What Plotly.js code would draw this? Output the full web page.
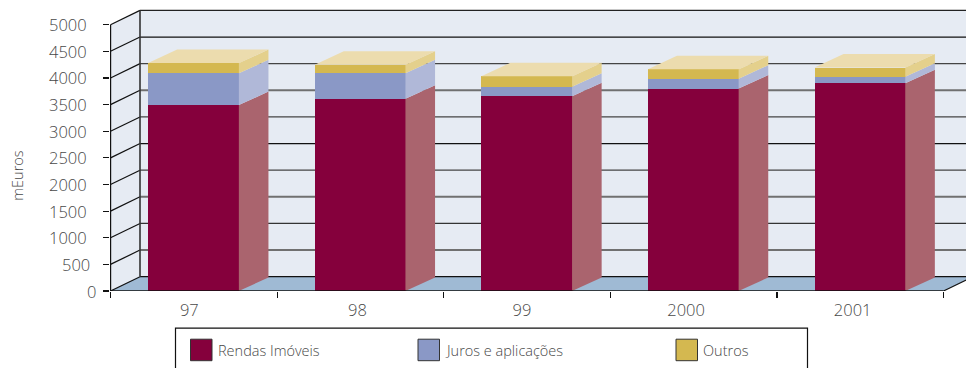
<!DOCTYPE html>
<html>
<head>
<meta charset="utf-8">
<script src="https://cdn.plot.ly/plotly-3.0.1.min.js"></script>
<style>html,body{margin:0;padding:0;background:#fff;overflow:hidden}</style>
</head>
<body>
<div id="chart" style="width:966px;height:368px"></div>
<script>
// Income by year, thousands of euros
const years = ['97', '98', '99', '2000', '2001'];
const seriesNames = ['Rendas Imóveis', 'Juros e aplicações', 'Outros'];
const rendas = [3490, 3610, 3655, 3800, 3900];
const juros = [597, 477, 180, 187, 125];
const outros = [193, 163, 195, 175, 170];
const yTicks = [0, 500, 1000, 1500, 2000, 2500, 3000, 3500, 4000, 4500, 5000];

const frontColors = ['#85003c', '#8a98c6', '#d4b850'];
const sideColors = ['#aa646e', '#b0b8d8', '#e4d08c'];
const topColor = '#ecdcae';
const wallColor = '#e6ebf3';
const floorColor = '#9fbad4';
const inkColor = '#484848';
const fontName = '"Open Sans", sans-serif';
const lightText = (size) => ({family: fontName, size, color: inkColor, weight: 300});

// Back-wall rule styling, one entry per value tick
const ruleColors = ['#111', '#707070', '#333', '#707070', '#444', '#111', '#444', '#707070', '#444', '#111', '#222'];
const ruleWidths = [1.3, 2, 1.3, 2, 1.3, 1.3, 1.3, 2, 1.3, 1.3, 1.3];
// Horizontal nudge of each year label, in pixels
const yearLabelNudge = [-4.5, -3, -5, -7.5, -7.5];

// Plot box in page pixels, and the oblique depth of the box in axis units
const W = 966, H = 368, L = 110, T = 9.3, B = 76.7;
const unitX = 166.6;
const plotH = H - T - B;
const yMax = plotH / 0.05326;
const xMin = -0.5 - 0.5 / unitX;
const xMax = xMin + (W - L) / unitX;
const depthX = 29.5 / unitX;
const depthY = 14.3 * yMax / plotH;
const barDepthX = 29 / unitX;
const barDepthY = 13.5 * yMax / plotH;
const barWidth = 0.548;
const overlap = 0.6 / unitX;
const left = -0.5, right = years.length - 0.5, ceil = 5000;

const paperX = px => (px - L) / (W - L);
const paperY = py => (H - B - py) / plotH;

const poly = (pts, fill) => ({
  type: 'path', xref: 'x', yref: 'y', layer: 'below',
  path: 'M' + pts.map(p => p[0] + ',' + p[1]).join('L') + 'Z',
  fillcolor: fill, line: {width: 0}
});
const seg = (x0, y0, x1, y1, color, width) => ({
  type: 'line', xref: 'x', yref: 'y', layer: 'below',
  x0, y0, x1, y1, line: {color: color || '#111', width: width || 1.2}
});

// Box walls and floor sit below the traces
const shapes = [
  poly([[left + depthX, depthY], [right + depthX + 1, depthY], [right + depthX + 1, ceil + depthY], [left + depthX, ceil + depthY]], wallColor),
  poly([[left, 0], [left + depthX, depthY], [left + depthX, ceil + depthY], [left, ceil]], wallColor),
  poly([[left, 0], [left + depthX, depthY], [right + depthX, depthY], [right, 0]], floorColor)
];
yTicks.forEach((v, i) => {
  shapes.push(seg(left, v, left + depthX, v + depthY));
  shapes.push(seg(left + depthX, v + depthY, right + depthX + 1, v + depthY, ruleColors[i], ruleWidths[i]));
});
shapes.push(seg(left + depthX, depthY, left + depthX, ceil + depthY, '#333', 1.6));
shapes.push(seg(right, 0, right + depthX, depthY));

// Front faces: ordinary stacked bars
const stacks = [rendas, juros, outros];
const traces = stacks.map((vals, i) => ({
  type: 'bar', x: years.map((_, k) => k), y: vals, name: seriesNames[i],
  width: barWidth, marker: {color: frontColors[i], line: {width: 0}},
  showlegend: false, hoverinfo: 'x+y+name'
}));

// Side faces and lids are derived from the same stacked values
const faceTrace = (xs, ys, color) => ({
  type: 'scatter', mode: 'lines', x: xs, y: ys, fill: 'toself', fillcolor: color,
  line: {width: 0, color: color}, cliponaxis: false, showlegend: false, hoverinfo: 'skip'
});
years.forEach((_, k) => {
  const xr = k + barWidth / 2, xl = k - barWidth / 2;
  const xs = xr - overlap;
  let base = 0;
  stacks.forEach((vals, i) => {
    const top = base + vals[k];
    traces.push(faceTrace(
      [xs, xr + barDepthX, xr + barDepthX, xs, xs],
      [base, base + barDepthY, top + barDepthY, top, base], sideColors[i]));
    base = top;
  });
  traces.push(faceTrace(
    [xl, xr, xr + barDepthX, xl + barDepthX, xl],
    [base, base, base + barDepthY, base + barDepthY, base], topColor));
});

// Front edges of the box, drawn above the bars
traces.push({
  type: 'scatter', mode: 'lines', x: [left, left, null, left, right], y: [ceil, 0, null, 0, 0],
  line: {color: '#111', width: 1.4}, cliponaxis: false, showlegend: false, hoverinfo: 'skip'
});

// Value labels step closer to the axis as they get shorter
const annotations = yTicks.map(v => {
  const digits = String(v).length;
  return {
    xref: 'x', yref: 'y', x: left, y: v, xanchor: 'right', yanchor: 'middle',
    xshift: digits === 4 ? -22 : digits === 3 ? -19 : -13,
    text: String(v), showarrow: false, font: lightText(16.5)
  };
});

// Rotated unit label
annotations.push({
  xref: 'paper', yref: 'paper', x: paperX(18), y: paperY(176),
  xanchor: 'center', yanchor: 'middle', textangle: -90,
  text: 'mEuros', showarrow: false, font: lightText(14.5)
});

// Legend panel
const legendX = [190.5, 418, 676];
shapes.push({
  type: 'rect', xref: 'paper', yref: 'paper', layer: 'above',
  x0: paperX(175.5), x1: paperX(807.5), y0: paperY(380), y1: paperY(328.5),
  fillcolor: '#ffffff', line: {color: '#111', width: 1.2}
});
seriesNames.forEach((name, i) => {
  shapes.push({
    type: 'rect', xref: 'paper', yref: 'paper', layer: 'above',
    x0: paperX(legendX[i]), x1: paperX(legendX[i] + 21.5), y0: paperY(361), y1: paperY(339.5),
    fillcolor: frontColors[i], line: {color: '#333', width: 1}
  });
  annotations.push({
    xref: 'paper', yref: 'paper', x: paperX(legendX[i] + 25), y: paperY(351),
    xanchor: 'left', yanchor: 'middle', text: name, showarrow: false, font: lightText(14.5)
  });
});

const layout = {
  width: W, height: H,
  margin: {l: L, r: 0, t: T, b: B, pad: 0},
  paper_bgcolor: '#ffffff', plot_bgcolor: 'rgba(0,0,0,0)',
  barmode: 'stack', showlegend: false,
  shapes, annotations,
  xaxis: {
    range: [xMin, xMax], showgrid: false, zeroline: false, showline: false,
    tickmode: 'array', tickvals: years.map((_, k) => k + yearLabelNudge[k] / unitX), ticktext: years,
    ticks: '', ticklabelstandoff: 7, tickfont: lightText(16.5),
    minor: {
      tickmode: 'array', tickvals: years.map((_, k) => k - 0.5).concat(right),
      ticks: 'outside', ticklen: 6, tickwidth: 1.2, tickcolor: '#111', showgrid: false
    }
  },
  yaxis: {
    range: [0, yMax], showgrid: false, zeroline: false, showline: false,
    tickmode: 'array', tickvals: yTicks, showticklabels: false,
    ticks: 'outside', ticklen: 6, tickwidth: 1.2, tickcolor: '#111'
  }
};

Plotly.newPlot('chart', traces, layout, {displayModeBar: false, staticPlot: true});
</script>
</body>
</html>
